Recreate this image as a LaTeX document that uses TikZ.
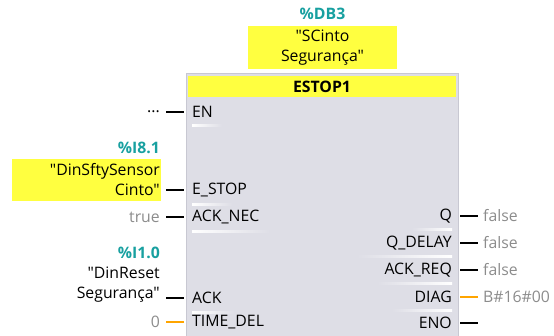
\documentclass[tikz,border=0pt]{standalone}
\usepackage{fontspec}
\setmainfont{Open Sans}[Ligatures=TeXOff]
\usetikzlibrary{positioning, calc}
\definecolor{cyell}{HTML}{FFFF40}
\definecolor{cblock}{HTML}{DEDEE6}
\definecolor{cframe}{HTML}{C8C8D2}
\definecolor{cteal}{HTML}{18A0A0}
\definecolor{cgrey}{HTML}{8C8C8C}
\definecolor{corange}{HTML}{FFA500}
\newcommand{\dq}{\symbol{34}}
\tikzset{
  every picture/.style={x=1pt, y=-1pt, font=\fontsize{15.8}{20}\selectfont},
  every node/.style={inner sep=0pt},
  block/.style={draw=cframe, fill=cblock, line width=1.2pt, minimum width=272pt, minimum height=270pt, anchor=north west},
  tag/.style={fill=cyell, align=center},
  addr/.style={text=cteal, font=\fontsize{15.8}{20}\selectfont\bfseries, anchor=east},
  sym/.style={align=right, anchor=east},
  val/.style={text=cgrey, anchor=east},
  inpin/.style={anchor=west},
  outpin/.style={anchor=east},
  wire/.style={draw=black, line width=2.2pt},
  glow/.style={left color=#1, right color=cblock, draw=none},
}

\begin{document}
\begin{tikzpicture}
  \useasboundingbox (0,0) rectangle (554,335);
  \node[block] (blk) at (186,73) {};
  \fill[cyell] (188,76) rectangle (456,97);
  \node[font=\fontsize{15.8}{20}\selectfont\bfseries] (name) at (322,86.5) {ESTOP1};
  \node[tag, minimum width=149pt, minimum height=43pt] (idb) at (322.5,47.5) {\dq SCinto\\Segurança\dq};
  \node[addr, anchor=center] (idbaddr) at (322.5,14) {\%DB3};

  % left side
  \node[sym] (en) at (160,112) {...};
  \node[addr] (a1) at (160,148) {\%I8.1};
  \node[tag, sym, minimum width=149pt, minimum height=42pt, inner xsep=1pt, text width=147pt] (s1) at (161,180) {\dq DinSftySensor\\Cinto\dq};
  \node[val] (v1) at (160,217) {true};
  \node[addr] (a2) at (160,253) {\%I1.0};
  \node[sym] (s2) at (160,284.5) {\dq DinReset\\Segurança\dq};
  \node[val] (v2) at (160,322) {0};

  \foreach \n/\t/\y in {en/EN/112, estop/E\_STOP/190, acknec/ACK\_NEC/217, ack/ACK/298, tdel/TIME\_DEL/322}
    \node[inpin] (p-\n) at (192,\y) {\t};
  \foreach \n/\t/\y in {q/Q/216, qdel/Q\_DELAY/243, ackreq/ACK\_REQ/270, diag/DIAG/297, eno/ENO/323}
    \node[outpin] (p-\n) at (452,\y) {\t};

  \draw[wire, shorten <=6pt, shorten >=8pt] (en.east |- p-en) -- (p-en.west);
  \draw[wire, shorten <=5pt, shorten >=8pt] (s1.east |- p-estop) -- (p-estop.west);
  \draw[wire, shorten <=6pt, shorten >=8pt] (v1.east |- p-acknec) -- (p-acknec.west);
  \draw[wire, shorten <=6pt, shorten >=8pt] (s2.east |- p-ack) -- (p-ack.west);
  \draw[wire, draw=corange, shorten <=6pt, shorten >=8pt] (v2.east |- p-tdel) -- (p-tdel.west);

  % right side
  \foreach \n/\t in {q/false, qdel/false, ackreq/false, diag/B\#16\#00}
    \node[val, anchor=west] (o-\n) at (483,0 |- p-\n) {\t};
  \coordinate (o-eno) at (478,0 |- p-eno);
  \foreach \n in {q, qdel, ackreq}
    \draw[wire, shorten <=8pt, shorten >=5pt] (p-\n.east) -- (o-\n.west);
  \draw[wire, draw=corange, shorten <=8pt, shorten >=5pt] (p-diag.east) -- (o-diag.west);
  \draw[wire, shorten <=8pt] (p-eno.east) -- (o-eno);

  % pin highlights
  \foreach \y/\w in {125/30, 204/40, 231/78, 312/42}
    \shade[glow=white] (192,\y-1) rectangle (192+\w,\y+1);
  \foreach \y/\w in {229/40, 256/95, 283/75, 310/60}
    \shade[left color=cblock, right color=white] (452-\w,\y-1) rectangle (452,\y+1);
\end{tikzpicture}
\end{document}
